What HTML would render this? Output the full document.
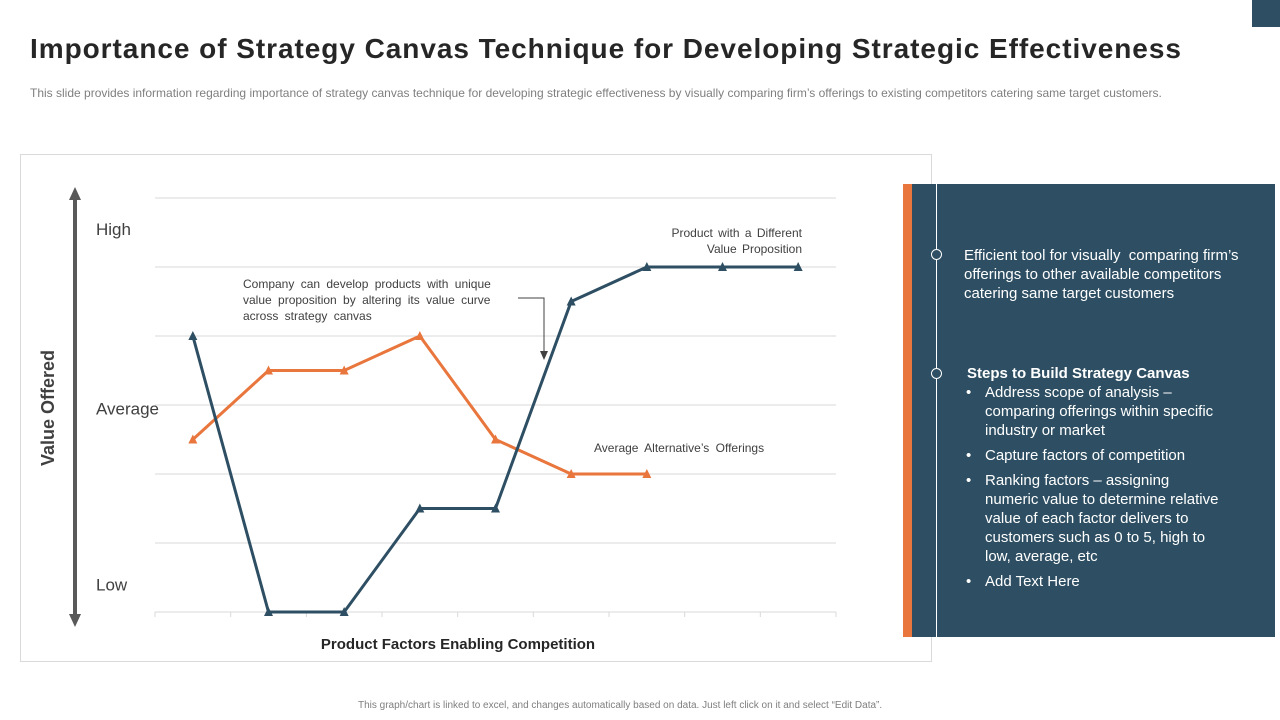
<!DOCTYPE html>
<html><head><meta charset="utf-8">
<style>
body{margin:0;width:1280px;height:720px;background:#fff;font-family:"Liberation Sans",sans-serif;position:relative;overflow:hidden}
.abs{position:absolute}
.b{display:flex;margin-bottom:6px}
.b .d{width:19px;flex:none}
.b .t{width:238px}
</style></head><body>
<div class="abs" style="left:1252px;top:0;width:28px;height:27px;background:#2e4f63"></div>
<div class="abs" style="left:30px;top:33px;font-size:28px;font-weight:bold;color:#262626;letter-spacing:0.95px;white-space:nowrap">Importance of Strategy Canvas Technique for Developing Strategic Effectiveness</div>
<div class="abs" style="left:30px;top:86px;font-size:12px;color:#7f7f7f;letter-spacing:0px;white-space:nowrap">This slide provides information regarding importance of strategy canvas technique for developing strategic effectiveness by visually comparing firm’s offerings to existing competitors catering same target customers.</div>
<div class="abs" style="left:20px;top:154px;width:910px;height:506px;border:1px solid #d9d9d9"></div>
<svg class="abs" style="left:0;top:0" width="1280" height="720" id="chart"></svg>
<div class="abs" style="left:358px;top:700px;font-size:10px;color:#7f7f7f">This graph/chart is linked to excel, and changes automatically based on data. Just left click on it and select “Edit Data”.</div>

<div class="abs" style="left:903px;top:184px;width:9px;height:453px;background:#e8763d"></div>
<div class="abs" style="left:912px;top:184px;width:363px;height:453px;background:#2e4f63"></div>
<div class="abs" style="left:936px;top:184px;width:1px;height:453px;background:#fff"></div>
<div class="abs" style="left:931px;top:249px;width:9px;height:9px;border:1px solid #fff;border-radius:50%;background:#2e4f63"></div>
<div class="abs" style="left:931px;top:368px;width:9px;height:9px;border:1px solid #fff;border-radius:50%;background:#2e4f63"></div>
<div class="abs" style="left:964px;top:246px;width:300px;font-size:15px;line-height:19px;color:#fff">Efficient tool for visually&nbsp; comparing firm’s offerings to other available competitors catering same target customers</div>
<div class="abs" style="left:966px;top:364px;width:300px;font-size:15px;line-height:19px;color:#fff">
<div style="font-weight:bold;margin-left:1px">Steps to Build Strategy Canvas</div>
<div class="b"><span class="d">•</span><span class="t">Address scope of analysis – comparing offerings within specific industry or market</span></div>
<div class="b"><span class="d">•</span><span class="t">Capture factors of competition</span></div>
<div class="b"><span class="d">•</span><span class="t">Ranking factors – assigning numeric value to determine relative value of each factor delivers to customers such as 0 to 5, high to low, average, etc</span></div>
<div class="b"><span class="d">•</span><span class="t">Add Text Here</span></div>
</div>

<script>
const categories=["F1","F2","F3","F4","F5","F6","F7","F8","F9"];
const productValues=[4,0,0,1.5,1.5,4.5,5,5,5];
const averageValues=[2.5,3.5,3.5,4,2.5,2,2,null,null];
const yLevels=[0,1,2,3,4,5,6];
const yLabels=["Low","Average","High"];
const yLabelValues=[0.4,2.95,5.55];

const svg=document.getElementById('chart');
const NS='http://www.w3.org/2000/svg';
const X0=155,X1=836,Y0=612,Y1=198;
const band=(X1-X0)/categories.length;
const xs=i=>X0+band*(i+0.5);
const ys=v=>Y0-(v-yLevels[0])/(yLevels[yLevels.length-1]-yLevels[0])*(Y0-Y1);
function el(t,a,p){const e=document.createElementNS(NS,t);for(const k in a)e.setAttribute(k,a[k]);(p||svg).appendChild(e);return e;}

yLevels.forEach(v=>{
 const g=el('line',{x1:X0,x2:X1,y1:ys(v),y2:ys(v),stroke:'#d9d9d9','stroke-width':1});
 
 
});
for(let i=0;i<=categories.length;i++){
 const t=el('line',{x1:X0+band*i,x2:X0+band*i,y1:Y0,y2:Y0+5,stroke:'#d9d9d9'});
 
 
}
yLabels.forEach((s,i)=>{
 const t=el('text',{x:96,y:ys(yLabelValues[i])+6,'font-size':17,fill:'#404040','font-family':'Liberation Sans'});
 t.textContent=s;
 
 
});
const ax=el('line',{x1:75,x2:75,y1:198,y2:616,stroke:'#595959','stroke-width':4});


el('polygon',{points:'75,187 69,200 81,200',fill:'#595959'});
el('polygon',{points:'75,627 69,614 81,614',fill:'#595959'});
const yt=el('text',{x:0,y:0,transform:'translate(54,408) rotate(-90)','text-anchor':'middle','font-size':18,'font-weight':'bold',fill:'#404040','font-family':'Liberation Sans'});
yt.textContent='Value Offered';


const xt=el('text',{x:458,y:649,'text-anchor':'middle','font-size':15,'font-weight':'bold',fill:'#262626','font-family':'Liberation Sans'});
xt.textContent='Product Factors Enabling Competition';



function series(vals,color,name){
 let pts=[];vals.forEach((v,i)=>{if(v!==null)pts.push([xs(i),ys(v)]);});
 const p=el('polyline',{points:pts.map(p=>p.join(',')).join(' '),fill:'none',stroke:color,'stroke-width':3});
 
 
 pts.forEach(([x,y])=>{
  const m=el('polygon',{points:`${x},${y-5} ${x-4.5},${y+4} ${x+4.5},${y+4}`,fill:color});
  
  
 });
}
series(averageValues,'#e8763d','average-offerings');
series(productValues,'#2e4f63','product-value');

function label(lines,x,y,anchor,name,ws){
 lines.forEach((s,i)=>{const t=el('text',{x:x,y:y+i*16,'text-anchor':anchor,'font-size':12,fill:'#404040','font-family':'Liberation Sans','word-spacing':ws});t.textContent=s;
 
 });
}
label(['Product with a Different','Value Proposition'],802,237,'end','product-series-label',2);
label(['Company can develop products with unique','value proposition by altering its value curve','across strategy canvas'],243,288,'start','annotation-text',3);
label(['Average  Alternative’s Offerings'],594,452,'start','average-series-label',3);
el('polyline',{points:'518,298 544,298 544,354',fill:'none',stroke:'#404040','stroke-width':1});
el('polygon',{points:'544,360 540,351 548,351',fill:'#404040'});
</script>
</body></html>
